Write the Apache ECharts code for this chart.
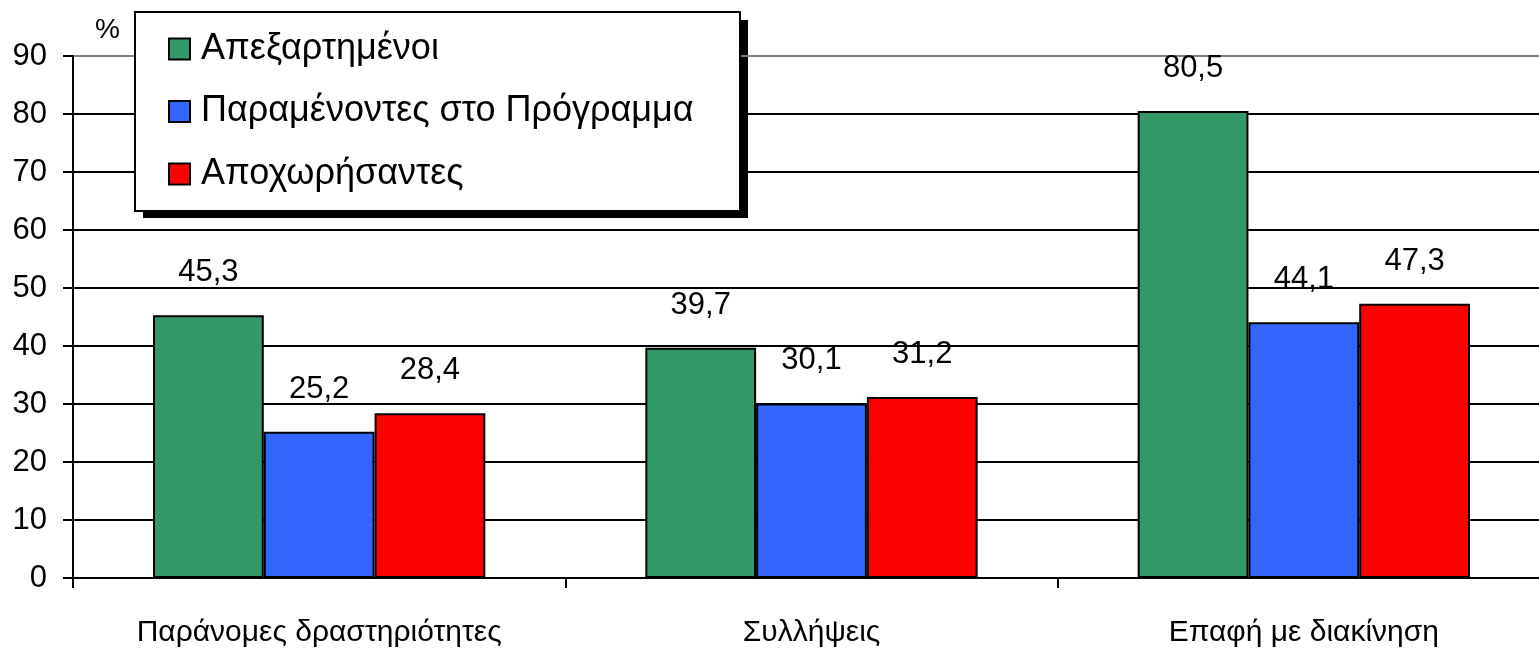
<!DOCTYPE html>
<html>
<head>
<meta charset="utf-8">
<style>
html,body{margin:0;padding:0;background:#fff;}
#chart{width:1539px;height:649px;}
</style>
<script src="https://cdn.jsdelivr.net/npm/echarts@6/dist/echarts.min.js"></script>
</head>
<body>
<div id="chart"></div>
<script>
const categories = ['Παράνομες δραστηριότητες', 'Συλλήψεις', 'Επαφή με διακίνηση'];
const seriesNames = ['Απεξαρτημένοι', 'Παραμένοντες στο Πρόγραμμα', 'Αποχωρήσαντες'];
const detoxed = [45.3, 39.7, 80.5];
const remaining = [25.2, 30.1, 44.1];
const dropped = [28.4, 31.2, 47.3];
const yTicks = [0, 10, 20, 30, 40, 50, 60, 70, 80, 90];
const colors = ['#339966', '#3366FF', '#FF0000'];

const FONT = '"Liberation Sans", Arial, sans-serif';
const chart = echarts.init(document.getElementById('chart'), null, {renderer: 'canvas'});

function mk(name, data, color) {
  return {
    name: name,
    type: 'bar',
    data: data,
    barGap: '0%',
    barCategoryGap: '32.5%',
    itemStyle: {color: color, borderColor: '#000', borderWidth: 2},
    label: {
      show: true, position: 'top', distance: 27,
      color: '#000', fontSize: 31, fontFamily: FONT,
      formatter: p => String(p.value).replace('.', ',')
    }
  };
}

chart.setOption({
  animation: false,
  backgroundColor: '#fff',
  textStyle: {fontFamily: FONT},
  grid: {left: 73, right: -11, top: 56, bottom: 71, outerBoundsMode: 'none', containLabel: false},
  graphic: [{
    type: 'rect', z: 0, zlevel: 0,
    left: 143, top: 20,
    shape: {width: 605, height: 198},
    style: {fill: '#000'},
    silent: true
  }],
  legend: {
    orient: 'vertical',
    left: 135, top: 12, z: 10,
    padding: [19, 34, 19, 33],
    itemGap: 26.5,
    itemWidth: 21, itemHeight: 21,
    icon: 'rect',
    backgroundColor: '#fff',
    borderColor: '#000', borderWidth: 2,
    itemStyle: {borderColor: '#000', borderWidth: 2},
    textStyle: {fontSize: 36, color: '#000', fontFamily: FONT, lineHeight: 32, padding: [0, 0, 0, 6], width: 505},
    data: seriesNames
  },
  xAxis: {
    type: 'category',
    data: categories,
    axisLine: {lineStyle: {color: '#000', width: 2}},
    axisTick: {show: true, length: 10, lineStyle: {color: '#000', width: 2}},
    axisLabel: {color: '#000', fontSize: 30, margin: 40, fontFamily: FONT}
  },
  yAxis: {
    type: 'value',
    min: yTicks[0], max: yTicks[yTicks.length - 1], interval: 10,
    name: '%',
    nameLocation: 'end',
    nameGap: 12,
    nameTextStyle: {color: '#000', fontSize: 28, align: 'left', padding: [0, 0, 0, 22], fontFamily: FONT},
    axisLine: {show: true, lineStyle: {color: '#000', width: 2}},
    axisTick: {show: true, length: 10, lineStyle: {color: '#000', width: 2}},
    axisLabel: {color: '#000', fontSize: 31, margin: 26, fontFamily: FONT},
    splitLine: {show: true, lineStyle: {color: ['#000','#000','#000','#000','#000','#000','#000','#000','#000','#808080'], width: 2}}
  },
  series: [mk(seriesNames[0], detoxed, colors[0]), mk(seriesNames[1], remaining, colors[1]), mk(seriesNames[2], dropped, colors[2])]
});
</script>
</body>
</html>
